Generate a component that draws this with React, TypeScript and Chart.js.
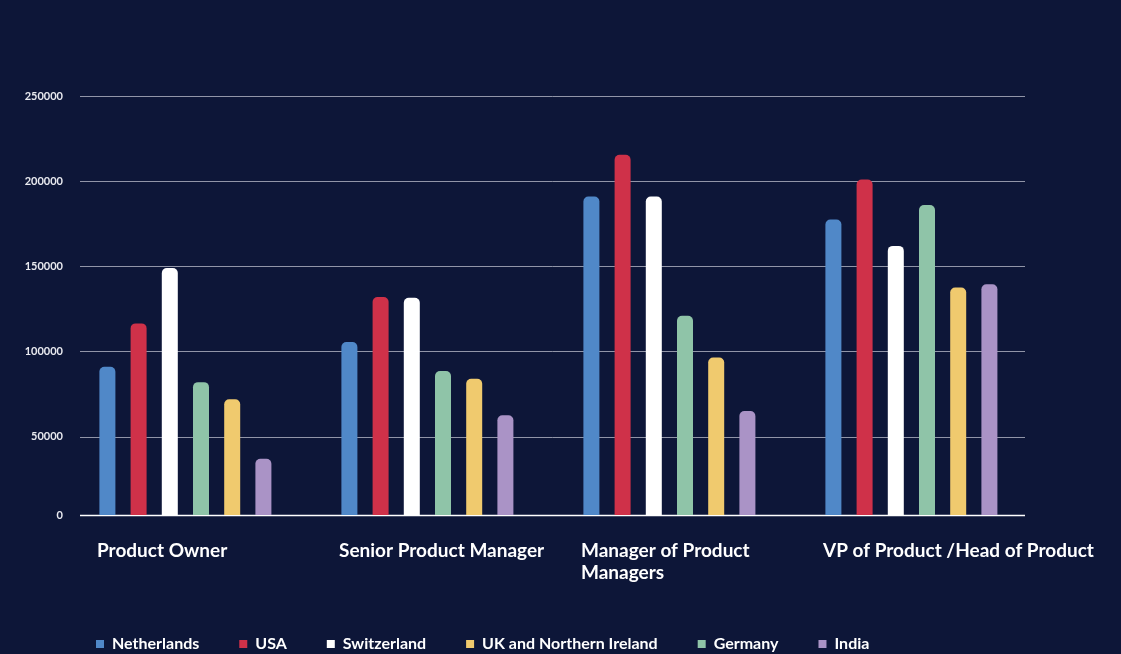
import React, { useEffect, useRef } from "react";
import { Chart, registerables } from "chart.js";

Chart.register(...registerables);

const categories: (string | string[])[] = [
  "Product Owner",
  "Senior Product Manager",
  ["Manager of Product", "Managers"],
  "VP of Product /Head of Product",
];

const netherlands = [91000, 105500, 191000, 177500];
const usa = [116500, 132000, 215500, 201000];
const switzerland = [149000, 131500, 191000, 162000];
const germany = [82000, 88500, 121000, 186000];
const ukNi = [72000, 84000, 96500, 137500];
const india = [37000, 62500, 65000, 139500];

// the baseline of the original sits slightly above the true zero
const yAxisMin = 4000;
const yAxisMax = 250000;
const yTickValues = [50000, 100000, 150000, 200000, 250000];

const legendOrder = [
  "Netherlands",
  "USA",
  "Switzerland",
  "UK and Northern Ireland",
  "Germany",
  "India",
];

const BG = "#0d1638";
const FONT = "Lato, 'Noto Sans', sans-serif";

const gridPlugin = {
  id: "customGrid",
  afterLayout(chart: any) {
    if (chart.legend) chart.legend.left = 56;
  },
  beforeDatasetsDraw(chart: any) {
    const { ctx, chartArea, scales } = chart;
    const y = scales.y;
    const right = chartArea.left + 945;
    ctx.save();
    y.ticks.forEach((t: any) => {
      const py = Math.round(y.getPixelForValue(t.value)) + 0.5;
      ctx.beginPath();
      if (t.value === yAxisMin) {
        ctx.strokeStyle = "#ffffff";
        ctx.lineWidth = 1.5;
      } else {
        ctx.strokeStyle = "rgba(190,192,205,0.75)";
        ctx.lineWidth = 1;
      }
      ctx.moveTo(chartArea.left, py);
      ctx.lineTo(right, py);
      ctx.stroke();
    });
    ctx.restore();
  },
};

export default function App() {
  const ref = useRef<HTMLCanvasElement | null>(null);

  useEffect(() => {
    if (!ref.current) return;
    const mk = (label: string, data: number[], color: string) => ({
      label,
      data,
      backgroundColor: color,
      borderWidth: 0,
      borderRadius: 5,
      borderSkipped: "start" as const,
    });
    const chart = new Chart(ref.current, {
      type: "bar",
      data: {
        labels: categories,
        datasets: [
          mk("Netherlands", netherlands, "#5088c8"),
          mk("USA", usa, "#cf3149"),
          mk("Switzerland", switzerland, "#ffffff"),
          mk("Germany", germany, "#8fc4a8"),
          mk("UK and Northern Ireland", ukNi, "#f0ca6e"),
          mk("India", india, "#aa93c6"),
          { label: "", data: [null, null, null, null], backgroundColor: "rgba(0,0,0,0)", borderWidth: 0 } as any,
        ],
      },
      options: {
        animation: false,
        responsive: true,
        maintainAspectRatio: false,
        datasets: {
          bar: { categoryPercentage: 0.9025, barPercentage: 0.513 },
        },
        layout: { padding: { left: 0, right: 73, top: 96, bottom: -8 } },
        plugins: {
          tooltip: { enabled: false },
          legend: {
            position: "bottom",
            align: "start",
            labels: {
              color: "#ffffff",
              boxWidth: 8,
              boxHeight: 8,
              padding: 40,
              font: { family: FONT, size: 16, weight: "bold" },
              filter: (item: any) => item.text !== "",
              sort: (a: any, b: any) => legendOrder.indexOf(a.text) - legendOrder.indexOf(b.text),
            },
          },
        },
        scales: {
          x: {
            grid: { display: false, drawTicks: false },
            border: { display: false },
            ticks: {
              color: "#ffffff",
              align: "start",
              labelOffset: -104,
              padding: 24,
              maxRotation: 0,
              minRotation: 0,
              autoSkip: false,
              font: { family: FONT, size: 19, weight: "bold", lineHeight: 1.2 },
            },
            afterFit: (s: any) => {
              s.height = 81;
              s.paddingLeft = 0;
              s.paddingRight = 0;
            },
          },
          y: {
            min: yAxisMin,
            max: yAxisMax,
            grid: { display: false, drawTicks: false },
            border: { display: false },
            afterBuildTicks: (s: any) => {
              s.ticks = [yAxisMin, ...yTickValues].map((v) => ({ value: v }));
            },
            ticks: {
              color: "#e9eaf0",
              padding: 17,
              font: { family: FONT, size: 11, weight: "bold" },
              callback: (v: any) => (v === yAxisMin ? "0" : String(v)),
            },
            afterFit: (s: any) => {
              s.width = 80;
              s.paddingTop = 0;
              s.paddingBottom = 0;
            },
          },
        },
      },
      plugins: [gridPlugin],
    });
    return () => chart.destroy();
  }, []);

  return (
    <div
      style={{
        position: "fixed",
        left: 0,
        top: 0,
        width: 1121,
        height: 654,
        background: BG,
      }}
    >
      <canvas ref={ref} />
    </div>
  );
}
